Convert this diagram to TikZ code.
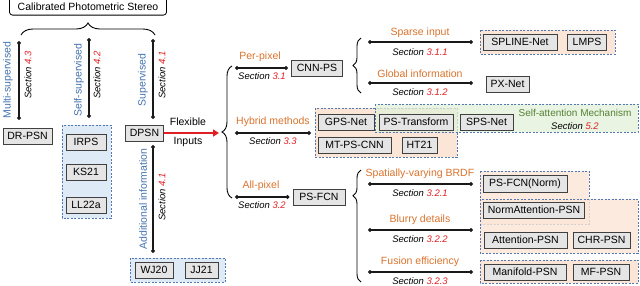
\documentclass[tikz,border=0pt]{standalone}
\usepackage{fontspec}
\setmainfont{Liberation Sans}
\usetikzlibrary{arrows.meta,positioning,calc,decorations.pathreplacing}
\definecolor{lblorange}{RGB}{217,115,45}
\definecolor{secred}{RGB}{225,30,35}
\definecolor{supblue}{RGB}{68,114,176}
\definecolor{attgreen}{RGB}{84,130,53}
\definecolor{grpborder}{RGB}{84,120,180}
\definecolor{orangefill}{RGB}{251,229,214}
\definecolor{bluefill}{RGB}{222,235,247}
\definecolor{greenfill}{RGB}{226,240,217}
\newcommand{\sectref}[1]{\textit{Section \textcolor{secred}{#1}}}

\begin{document}
\begin{tikzpicture}[
    x=1pt, y=-1pt,
    mbox/.style={draw=black!75, fill=black!10, line width=1pt, minimum height=16pt, inner xsep=4pt, font=\fontsize{10.5}{12}\selectfont},
    grp/.style={draw=grpborder, line width=0.8pt, dash pattern=on 2pt off 1.5pt},
    cat/.style={text=lblorange, font=\fontsize{10.5}{12}\selectfont},
    sec/.style={font=\fontsize{9.5}{11}\selectfont},
    kind/.style={text=supblue, rotate=90, font=\fontsize{10.5}{12}\selectfont},
    conn/.style={{Circle[length=4pt]}-{Circle[length=4pt]}, line width=1.1pt, black!90},
    brc/.style={decorate, decoration={brace, amplitude=#1}, line width=0.9pt},
    brc/.default=9pt,
]
\useasboundingbox (0,0) rectangle (640,285);

% groups
\draw[grp, fill=bluefill] (62,125) rectangle (111,218);
\draw[grp, fill=bluefill] (130,258) rectangle (225,282);
\draw[grp, fill=orangefill] (480,30) rectangle (615,54);
\draw[grp, fill=orangefill] (315,108) rectangle (457,157);
\draw[grp, fill=greenfill, fill opacity=0.75] (375,104) rectangle (638,132);
\draw[grp, fill=orangefill, fill opacity=0.8] (480,171) rectangle (589,224);
\draw[grp, fill=orangefill, fill opacity=0.8] (480,199) rectangle (638,253);
\draw[grp, fill=orangefill] (480,260) rectangle (638,283);

% root
\node[draw, rounded corners=3pt, line width=0.8pt, anchor=south, minimum width=157pt, text height=20pt, text depth=3pt, inner sep=2pt, font=\fontsize{10.5}{12}\selectfont] (cps) at (88,15.5) {Calibrated Photometric Stereo};
\draw[brc=12pt] (21,35) -- (155,35);

% supervision branches
\coordinate (multitop) at (19,41);
\coordinate (multibot) at (19,120);
\coordinate (selftop) at (89,38);
\coordinate (selfbot) at (89,118);
\coordinate (suptop) at (153,39);
\coordinate (supbot) at (153,119);
\coordinate (addtop) at (153,145);
\coordinate (addbot) at (153,253);
\draw[conn] (multitop) -- (multibot);
\draw[conn] (selftop) -- (selfbot);
\draw[conn] (suptop) -- (supbot);
\draw[conn] (addtop) -- (addbot);

\node[kind] (multi) at (8,80) {Multi-supervised};
\node[sec, rotate=90] (secmulti) at (28,75) {\sectref{4.3}};
\node[kind] (selfsup) at (79,80) {Self-supervised};
\node[sec, rotate=90] (secself) at (97,75) {\sectref{4.2}};
\node[kind] (sup) at (143,80) {Supervised};
\node[sec, rotate=90] (secsup) at (162,75) {\sectref{4.1}};
\node[kind] (addinfo) at (143,199) {Additional information};
\node[sec, rotate=90] (secadd) at (162,197) {\sectref{4.1}};

\node[mbox, minimum width=49pt] (drpsn) at (27.5,136) {DR-PSN};
\node[mbox, minimum width=40pt] (irps) at (86,142) {IRPS};
\node[mbox, minimum width=40pt] (ks21) at (86,172) {KS21};
\node[mbox, minimum width=40pt] (ll22a) at (86,205) {LL22a};
\node[mbox, minimum width=37pt] (dpsn) at (144.5,133) {DPSN};
\node[mbox, minimum width=38pt] (wj20) at (154,270) {WJ20};
\node[mbox, minimum width=33pt] (jj21) at (201.5,270) {JJ21};

% flexible inputs
\coordinate (flexend) at (219,133);
\draw[-{Triangle[length=6pt,width=7pt]}, line width=1.8pt, secred] (dpsn.east) -- (flexend);
\node[font=\fontsize{10.5}{12}\selectfont] (flexible) at (188,122) {Flexible};
\node[font=\fontsize{10.5}{12}\selectfont] (inputs) at (188,142) {Inputs};
\draw[brc=10pt] (232,198) -- (232,66);

% per-pixel
\node[mbox, minimum width=51pt] (cnnps) at (317,68) {CNN-PS};
\coordinate (pp0) at (235,68);
\draw[conn, shorten >=3pt] (pp0) -- (cnnps.west);
\node[cat] (perpixel) at (260,57) {Per-pixel};
\node[sec] (secpp) at (262,76) {\sectref{3.1}};
\draw[brc=8pt] (361,93) -- (361,38);

\coordinate (sp0) at (368,42);
\coordinate (sp1) at (473,42);
\draw[conn] (sp0) -- (sp1);
\node[cat] (sparse) at (420,33) {Sparse input};
\node[sec] (secsparse) at (420,52) {\sectref{3.1.1}};
\node[mbox, minimum width=74pt] (splinenet) at (520,42) {SPLINE-Net};
\node[mbox, minimum width=39pt] (lmps) at (587,42) {LMPS};

\coordinate (gi0) at (368,83);
\coordinate (gi1) at (473,83);
\draw[conn] (gi0) -- (gi1);
\node[cat] (global) at (420,74) {Global information};
\node[sec] (secglobal) at (420,92) {\sectref{3.1.2}};
\node[mbox, minimum width=43pt] (pxnet) at (507.5,84) {PX-Net};

% hybrid
\coordinate (hy0) at (235,133);
\coordinate (hy1) at (311,133);
\draw[conn] (hy0) -- (hy1);
\node[cat] (hybrid) at (273,122) {Hybrid methods};
\node[sec] (sechybrid) at (273,141) {\sectref{3.3}};
\node[mbox, minimum width=56pt] (gpsnet) at (346,122) {GPS-Net};
\node[mbox, minimum width=74pt] (pstransform) at (416,122) {PS-Transform};
\node[mbox, minimum width=53pt] (spsnet) at (486.5,122) {SPS-Net};
\node[mbox, minimum width=73pt] (mtpscnn) at (354.5,145) {MT-PS-CNN};
\node[mbox, minimum width=35pt] (ht21) at (419.5,145) {HT21};
\node[text=attgreen, font=\fontsize{10}{12}\selectfont] (selfatt) at (575,113) {Self-attention Mechanism};
\node[sec] (secselfatt) at (575,126) {\sectref{5.2}};

% all-pixel
\node[mbox, minimum width=52pt] (psfcn) at (319,197) {PS-FCN};
\coordinate (ap0) at (235,197);
\draw[conn, shorten >=3pt] (ap0) -- (psfcn.west);
\node[cat] (allpixel) at (261,186) {All-pixel};
\node[sec] (secap) at (262,205) {\sectref{3.2}};
\draw[brc=8pt, decoration={aspect=0.77}] (361,282) -- (361,170);

\coordinate (sv0) at (368,184);
\coordinate (sv1) at (473,184);
\draw[conn] (sv0) -- (sv1);
\node[cat] (svbrdf) at (420,174) {Spatially-varying BRDF};
\node[sec] (secsv) at (420,193) {\sectref{3.2.1}};

\coordinate (bd0) at (368,230);
\coordinate (bd1) at (473,230);
\draw[conn] (bd0) -- (bd1);
\node[cat] (blurry) at (420,220) {Blurry details};
\node[sec] (secblurry) at (420,239) {\sectref{3.2.2}};

\coordinate (fe0) at (368,272);
\coordinate (fe1) at (473,272);
\draw[conn] (fe0) -- (fe1);
\node[cat] (fusion) at (420,262) {Fusion efficiency};
\node[sec] (secfusion) at (420,281) {\sectref{3.2.3}};

\node[mbox, minimum width=84pt] (psfcnnorm) at (525,184) {PS-FCN(Norm)};
\node[mbox, minimum width=98pt] (normatt) at (534,210) {NormAttention-PSN};
\node[mbox, minimum width=83pt] (attpsn) at (525.5,240) {Attention-PSN};
\node[mbox, minimum width=57pt] (chrpsn) at (601.5,240) {CHR-PSN};
\node[mbox, minimum width=82pt] (manifold) at (525,272) {Manifold-PSN};
\node[mbox, minimum width=56pt] (mfpsn) at (601,272) {MF-PSN};
\end{tikzpicture}
\end{document}
